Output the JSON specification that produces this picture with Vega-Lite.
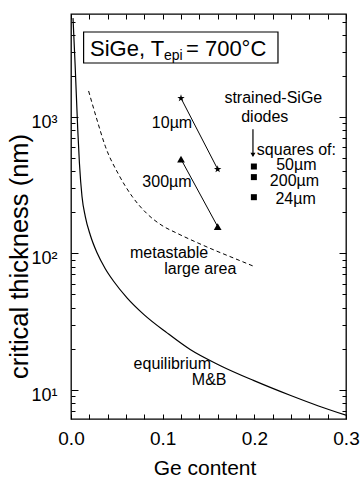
{
  "$schema": "https://vega.github.io/schema/vega-lite/v6.json",
  "width": 275,
  "height": 405,
  "autosize": {"type": "none"},
  "padding": {"left": 71, "top": 14, "right": 16, "bottom": 59},
  "background": "white",
  "config": {
    "view": {"stroke": "black", "strokeWidth": 1.3},
    "axis": {"domain": false, "grid": false, "tickColor": "black", "tickWidth": 1, "labelColor": "black", "titleColor": "black", "labelFont": "Liberation Sans", "titleFont": "Liberation Sans", "titleFontWeight": "normal"},
    "text": {"font": "Liberation Sans", "color": "black"}
  },
  "datasets": {
    "eq": [
      {"x": 0.0022, "t": 5300}, {"x": 0.0045, "t": 2400}, {"x": 0.0074, "t": 800}, {"x": 0.0092, "t": 458},
      {"x": 0.012, "t": 261}, {"x": 0.0156, "t": 186}, {"x": 0.0211, "t": 135.6}, {"x": 0.0284, "t": 100.8},
      {"x": 0.0374, "t": 77.1}, {"x": 0.0465, "t": 62.4}, {"x": 0.0611, "t": 47.2}, {"x": 0.0793, "t": 35.7},
      {"x": 0.1048, "t": 26.1}, {"x": 0.13, "t": 19.7}, {"x": 0.163, "t": 15.0}, {"x": 0.199, "t": 11.7},
      {"x": 0.239, "t": 9.1}, {"x": 0.27, "t": 7.6}, {"x": 0.3, "t": 6.5}
    ],
    "meta": [
      {"x": 0.0192, "t": 1550}, {"x": 0.0284, "t": 950}, {"x": 0.0374, "t": 610}, {"x": 0.052, "t": 378},
      {"x": 0.0666, "t": 262}, {"x": 0.083, "t": 195}, {"x": 0.0993, "t": 160}, {"x": 0.116, "t": 140},
      {"x": 0.135, "t": 122}, {"x": 0.1557, "t": 106}, {"x": 0.178, "t": 92}, {"x": 0.2, "t": 80}
    ],
    "pts": [
      {"x": 0.12, "t": 1371, "series": "10µm"}, {"x": 0.16, "t": 414, "series": "10µm"},
      {"x": 0.12, "t": 490, "series": "300µm"}, {"x": 0.16, "t": 157, "series": "300µm"}
    ],
    "squares": [
      {"x": 0.1995, "t": 433, "square": "50µm"}, {"x": 0.1995, "t": 362, "square": "200µm"}, {"x": 0.1995, "t": 258, "square": "24µm"}
    ],
    "arrow": [{"x": 0.1985, "t": 813, "t2": 520}],
    "arrowhead": [{"x": 0.1985, "t": 527}],
    "notes": [
      {"x": 0.1102, "t": 830, "text": "10µm"},
      {"x": 0.1047, "t": 305, "text": "300µm"},
      {"x": 0.2207, "t": 1266, "text": "strained-SiGe"},
      {"x": 0.2114, "t": 912, "text": "diodes"},
      {"x": 0.2459, "t": 527, "text": "squares of:"},
      {"x": 0.2458, "t": 405.6, "text": "50µm"},
      {"x": 0.2438, "t": 312, "text": "200µm"},
      {"x": 0.245, "t": 230, "text": "24µm"},
      {"x": 0.107, "t": 91.8, "text": "metastable"},
      {"x": 0.141, "t": 70.6, "text": "large area"},
      {"x": 0.1105, "t": 14.3, "text": "equilibrium"},
      {"x": 0.1507, "t": 10.75, "text": "M&B"}
    ],
    "box": [{"x": 0.01375, "x2": 0.2258, "t": 2486, "t2": 4195}],
    "boxmain": [{"x": 0.0207, "t": 2775, "text": "SiGe, T"}, {"x": 0.1254, "t": 2775, "text": "= 700°C"}],
    "boxsub": [{"x": 0.1015, "t": 2594, "text": "epi"}]
  },
  "layer": [
    {
      "data": {"name": "eq"},
      "mark": {"type": "line", "color": "black", "strokeWidth": 1.2, "clip": true, "interpolate": "monotone"},
      "encoding": {
        "x": {"field": "x", "type": "quantitative", "scale": {"type": "linear", "domain": [0, 0.3], "nice": false, "zero": false},
          "axis": {"orient": "bottom", "values": [0, 0.02, 0.04, 0.06, 0.08, 0.1, 0.12, 0.14, 0.16, 0.18, 0.2, 0.22, 0.24, 0.26, 0.28, 0.3],
            "tickSize": -5, "labelExpr": "abs(datum.value*10 - round(datum.value*10)) < 0.001 ? format(datum.value, '.1f') : ''",
            "labelFontSize": 19, "labelPadding": 30.7, "labelBaseline": "alphabetic", "labelFlush": false, "labelOverlap": false, "labelBound": false,
            "title": "Ge content", "titleFontSize": 21, "titleX": 133.5, "titleY": 55.7, "titleBaseline": "alphabetic", "titleAlign": "center"}},
        "y": {"field": "t", "type": "quantitative", "scale": {"type": "log", "domain": [6.1, 5684], "nice": false},
          "axis": {"orient": "left", "values": [10, 100, 1000], "tickSize": -7,
            "labelExpr": "datum.value == 1000 ? '10³' : datum.value == 100 ? '10²' : '10¹'",
            "labelFontSize": 18, "labelPadding": 21, "labelBaseline": "alphabetic", "labelOffset": 10.5, "labelAlign": "right", "labelOverlap": false, "labelBound": false, "labelFlush": false,
            "title": "critical thickness (nm)", "titleFontSize": 25.5, "titleX": -44, "titleY": 242, "titleBaseline": "alphabetic", "titleAlign": "center", "titleAngle": -90}}
      }
    },
    {
      "data": {"name": "meta"},
      "mark": {"type": "line", "color": "black", "strokeWidth": 1, "strokeDash": [4, 3], "clip": true, "interpolate": "monotone"},
      "encoding": {
        "x": {"field": "x", "type": "quantitative", "scale": {"type": "linear", "domain": [0, 0.3], "nice": false, "zero": false},
          "axis": {"orient": "top", "values": [0, 0.02, 0.04, 0.06, 0.08, 0.1, 0.12, 0.14, 0.16, 0.18, 0.2, 0.22, 0.24, 0.26, 0.28, 0.3], "tickSize": -5, "labels": false, "title": null}},
        "y": {"field": "t", "type": "quantitative", "scale": {"type": "log", "domain": [6.1, 5684], "nice": false},
          "axis": {"orient": "right", "values": [10, 100, 1000], "tickSize": -7, "labels": false, "title": null}}
      }
    },
    {
      "data": {"name": "pts"},
      "mark": {"type": "line", "color": "black", "strokeWidth": 1},
      "encoding": {
        "x": {"field": "x", "type": "quantitative", "axis": null},
        "y": {"field": "t", "type": "quantitative", "axis": {"orient": "left", "values": [7, 8, 9, 20, 30, 40, 50, 60, 70, 80, 90, 200, 300, 400, 500, 600, 700, 800, 900, 2000, 3000, 4000, 5000], "tickSize": -4, "labels": false, "title": null}},
        "detail": {"field": "series", "type": "nominal"}
      }
    },
    {
      "data": {"name": "pts"},
      "mark": {"type": "point", "filled": true, "color": "black", "size": 60, "opacity": 1},
      "encoding": {
        "x": {"field": "x", "type": "quantitative", "axis": null},
        "y": {"field": "t", "type": "quantitative", "axis": {"orient": "right", "values": [7, 8, 9, 20, 30, 40, 50, 60, 70, 80, 90, 200, 300, 400, 500, 600, 700, 800, 900, 2000, 3000, 4000, 5000], "tickSize": -4, "labels": false, "title": null}},
        "shape": {"field": "series", "type": "nominal", "scale": {"domain": ["10µm", "300µm"], "range": ["M0,-1L0.2245,-0.309L0.951,-0.309L0.3633,0.118L0.588,0.809L0,0.382L-0.588,0.809L-0.3633,0.118L-0.951,-0.309L-0.2245,-0.309Z", "triangle-up"]}, "legend": null}
      }
    },
    {
      "data": {"name": "squares"},
      "mark": {"type": "point", "shape": "square", "filled": true, "color": "black", "size": 36, "opacity": 1},
      "encoding": {
        "x": {"field": "x", "type": "quantitative", "axis": null},
        "y": {"field": "t", "type": "quantitative", "axis": null}
      }
    },
    {
      "data": {"name": "arrow"},
      "mark": {"type": "rule", "color": "black", "strokeWidth": 1.2},
      "encoding": {
        "x": {"field": "x", "type": "quantitative", "axis": null},
        "y": {"field": "t", "type": "quantitative", "axis": null},
        "y2": {"field": "t2"}
      }
    },
    {
      "data": {"name": "arrowhead"},
      "mark": {"type": "point", "shape": "triangle-down", "filled": true, "color": "black", "size": 25, "opacity": 1},
      "encoding": {
        "x": {"field": "x", "type": "quantitative", "axis": null},
        "y": {"field": "t", "type": "quantitative", "axis": null}
      }
    },
    {
      "data": {"name": "notes"},
      "mark": {"type": "text", "fontSize": 16, "align": "center", "baseline": "alphabetic"},
      "encoding": {
        "x": {"field": "x", "type": "quantitative", "axis": null},
        "y": {"field": "t", "type": "quantitative", "axis": null},
        "text": {"field": "text"}
      }
    },
    {
      "data": {"name": "box"},
      "mark": {"type": "rect", "fill": "white", "stroke": "black", "strokeWidth": 1.2},
      "encoding": {
        "x": {"field": "x", "type": "quantitative", "axis": null},
        "x2": {"field": "x2"},
        "y": {"field": "t", "type": "quantitative", "axis": null},
        "y2": {"field": "t2"}
      }
    },
    {
      "data": {"name": "boxmain"},
      "mark": {"type": "text", "fontSize": 22, "align": "left", "baseline": "alphabetic"},
      "encoding": {
        "x": {"field": "x", "type": "quantitative", "axis": null},
        "y": {"field": "t", "type": "quantitative", "axis": null},
        "text": {"field": "text"}
      }
    },
    {
      "data": {"name": "boxsub"},
      "mark": {"type": "text", "fontSize": 14, "align": "left", "baseline": "alphabetic"},
      "encoding": {
        "x": {"field": "x", "type": "quantitative", "axis": null},
        "y": {"field": "t", "type": "quantitative", "axis": null},
        "text": {"field": "text"}
      }
    }
  ],
  "resolve": {"scale": {"x": "shared", "y": "shared"}, "axis": {"x": "independent", "y": "independent"}}
}
